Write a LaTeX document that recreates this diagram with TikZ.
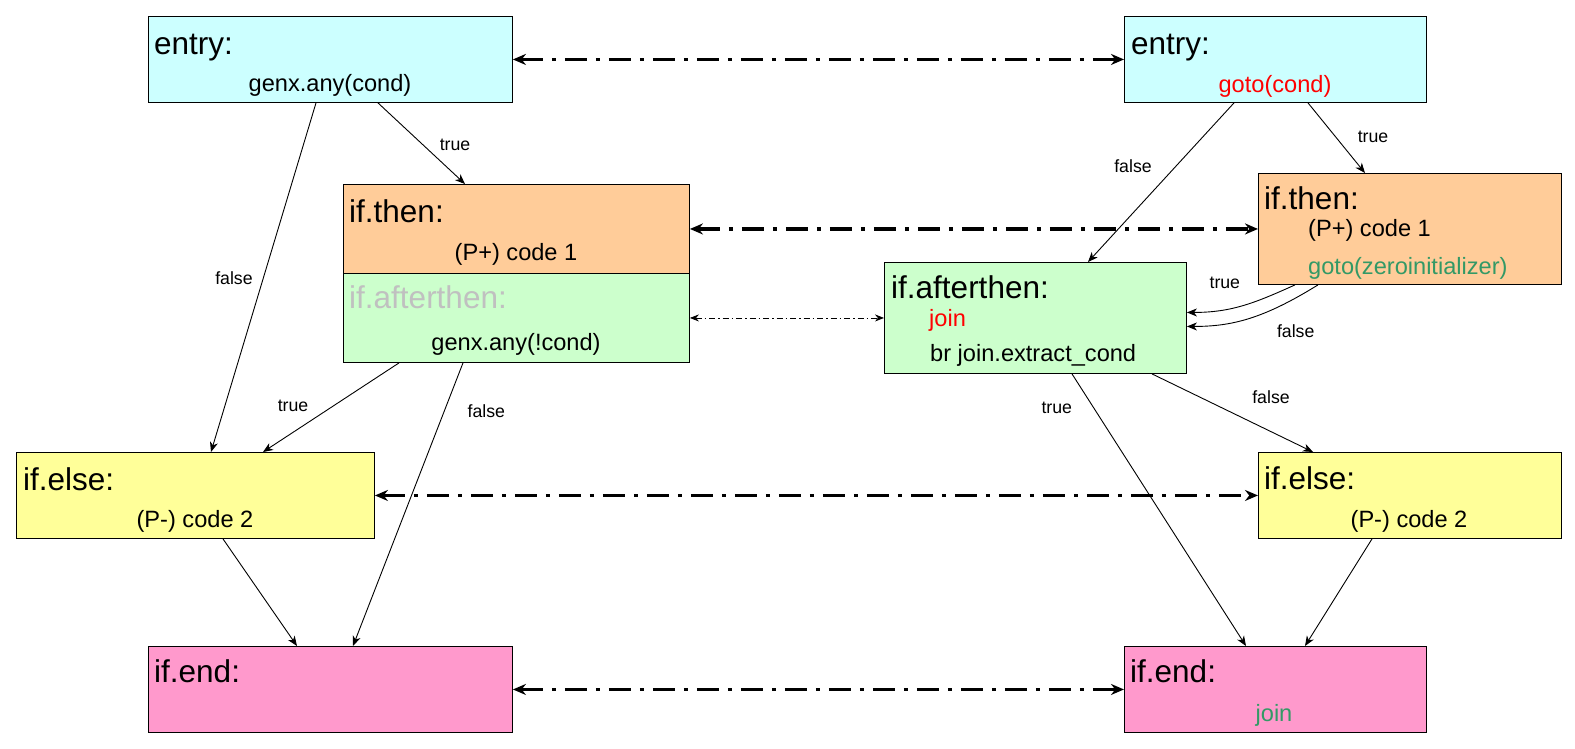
\documentclass[tikz,border=0pt]{standalone}
\usepackage{fontspec}
\setmainfont{Liberation Sans}
\usetikzlibrary{arrows.meta}
\definecolor{entryc}{HTML}{CCFFFF}
\definecolor{thenc}{HTML}{FFCC99}
\definecolor{afterc}{HTML}{CCFFCC}
\definecolor{elsec}{HTML}{FFFF99}
\definecolor{endc}{HTML}{FF99CC}
\definecolor{dimtext}{HTML}{C0C0C0}
\definecolor{goodtext}{HTML}{339966}
\begin{document}
\begin{tikzpicture}[x=1pt,y=-1pt,
    blk/.style={draw,line width=.9pt,anchor=north west,inner sep=0pt},
    ttl/.style={anchor=base west,inner sep=0pt,font=\fontsize{31.5}{36}\selectfont},
    txt/.style={anchor=base,inner sep=0pt,font=\fontsize{23.6}{28}\selectfont},
    txtl/.style={txt,anchor=base west},
    lbl/.style={inner sep=0pt,font=\fontsize{17.7}{20}\selectfont},
    edge/.style={-{Stealth[length=10pt,width=8pt,inset=3pt]},line width=.9pt},
    pair/.style={{Stealth[length=13pt,width=11pt]}-{Stealth[length=13pt,width=11pt]},
      line width=3.5pt,dash pattern=on 22pt off 9pt on 4pt off 9pt},
    thinpair/.style={{Stealth[length=9pt,width=7pt]}-{Stealth[length=9pt,width=7pt]},
      line width=.8pt,dash pattern=on 6pt off 3pt on 1.5pt off 3pt}]
  \useasboundingbox (0,0) rectangle (1575,748);
  % blocks, left
  \path
    (148,16) node[blk,fill=entryc,minimum width=364,minimum height=86] (le){}
    (343,184) node[blk,fill=thenc,minimum width=346,minimum height=89] (lt){}
    (343,273) node[blk,fill=afterc,minimum width=346,minimum height=89] (la){}
    (16,452) node[blk,fill=elsec,minimum width=358,minimum height=86] (lelse){}
    (148,646) node[blk,fill=endc,minimum width=364,minimum height=86] (lend){};
  % blocks, right
  \path
    (1124,16) node[blk,fill=entryc,minimum width=302,minimum height=86] (re){}
    (1258,173) node[blk,fill=thenc,minimum width=303,minimum height=111] (rt){}
    (884,262) node[blk,fill=afterc,minimum width=302,minimum height=111] (ra){}
    (1258,452) node[blk,fill=elsec,minimum width=303,minimum height=86] (relse){}
    (1124,646) node[blk,fill=endc,minimum width=302,minimum height=86] (rend){};
  % texts
  \path
    (154,54) node[ttl] (le-t){entry:}
    (330,91) node[txt] (le-b){genx.any(cond)}
    (349,222) node[ttl] (lt-t){if.then:}
    (516,260) node[txt] (lt-b){(P+) code 1}
    (349,308) node[ttl,text=dimtext] (la-t){if.afterthen:}
    (516,350) node[txt] (la-b){genx.any(!cond)}
    (23,490) node[ttl] (lelse-t){if.else:}
    (195,527) node[txt] (lelse-b){(P-) code 2}
    (154,682) node[ttl] (lend-t){if.end:};
  \path
    (1131,54) node[ttl] (re-t){entry:}
    (1275,92) node[txt,text=red] (re-b){goto(cond)}
    (1264,209) node[ttl] (rt-t){if.then:}
    (1308,236) node[txtl] (rt-b){(P+) code 1}
    (1308,274) node[txtl,text=goodtext] (rt-c){goto(zeroinitializer)}
    (891,298) node[ttl] (ra-t){if.afterthen:}
    (929,326) node[txtl,text=red] (ra-b){join}
    (930,361) node[txtl] (ra-c){br join.extract\_cond}
    (1264,489) node[ttl] (relse-t){if.else:}
    (1409,527) node[txt] (relse-b){(P-) code 2}
    (1130,682) node[ttl] (rend-t){if.end:}
    (1274,721) node[txt,text=goodtext] (rend-b){join};
  % branches
  \begin{scope}[edge]
    \draw ([xshift=168]le.south west) to node[lbl,shift={(-29.5,1)}] (f1){false} ([xshift=195]lelse.north west);
    \draw ([xshift=230]le.south west) to node[lbl,shift={(33.5,1)}] (t1){true} ([xshift=122]lt.north west);
    \draw ([xshift=56]la.south west) to node[lbl,shift={(-38,-2)}] (t2){true} ([xshift=247]lelse.north west);
    \draw ([xshift=120]la.south west) to node[lbl,pos=.17,shift={(42,0)}] (f2){false} ([xshift=205]lend.north west);
    \draw ([xshift=207]lelse.south west) -- ([xshift=149]lend.north west);
    \draw ([xshift=184]re.south west) to node[lbl,shift={(36.5,-1.5)}] (t3){true} ([xshift=107]rt.north west);
    \draw ([xshift=110]re.south west) to node[lbl,shift={(-28,-16)}] (f3){false} ([xshift=204]ra.north west);
    \draw ([xshift=37]rt.south west) .. controls +(-40,18) and +(45,0) .. node[lbl,shift={(-18,-23)}] (t4){true} ([yshift=5.5]ra.east);
    \draw ([xshift=60]rt.south west) .. controls +(-55,34) and +(45,0) .. node[lbl,shift={(47,13)}] (f4){false} ([yshift=-8.5]ra.east);
    \draw ([xshift=188]ra.south west) to node[lbl,pos=.125,shift={(-37,0)}] (t5){true} ([xshift=122]rend.north west);
    \draw ([xshift=268]ra.south west) to node[lbl,shift={(38.5,-16)}] (f5){false} ([xshift=55]relse.north west);
    \draw ([xshift=114]relse.south west) -- ([xshift=181]rend.north west);
  \end{scope}
  % correspondences
  \draw[pair] (le) -- (re);
  \draw[pair] (lt) -- (rt);
  \draw[thinpair] (la) -- (ra);
  \draw[pair] (lelse) -- (relse);
  \draw[pair] (lend) -- (rend);
\end{tikzpicture}
\end{document}
